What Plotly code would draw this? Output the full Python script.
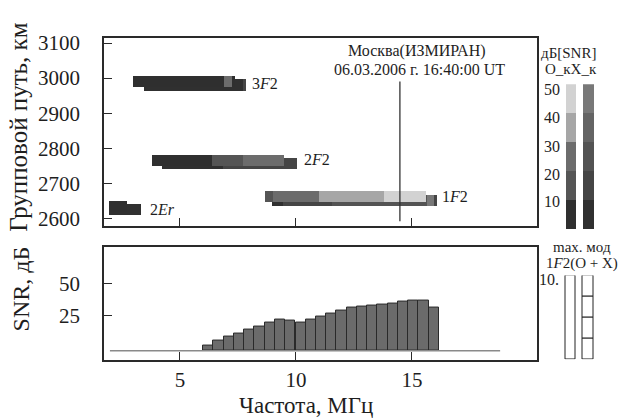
import plotly.graph_objects as go

# ---------------- data ----------------
# SNR level colours (dB bins 0-10,10-20,20-30,30-40,40-50)
snr_levels = [10, 20, 30, 40, 50]
colors_O = ["#2f2f2f", "#555555", "#6c6c6c", "#a6a6a6", "#d2d2d2"]
colors_X = ["#303030", "#454545", "#535353", "#646464", "#787878"]

# echo traces: frequency edges (MHz), level index per segment, group path (km)
trace_names = ["3F2", "2F2", "1F2", "2Er"]
label_text = ["3<i>F</i>2", "2<i>F</i>2", "1<i>F</i>2", "2<i>Er</i>"]
label_freq = [8.02, 10.25, 16.21, 3.62]
label_path = [2986, 2767, 2661, 2625]

edges_O = {
    "3F2": [2.96, 6.90, 7.24, 7.37],
    "2F2": [3.81, 6.37, 7.73, 9.48],
    "1F2": [8.66, 9.02, 11.00, 13.79, 15.60],
    "2Er": [1.94, 2.70],
}
levels_O = {
    "3F2": [0, 2, 0],
    "2F2": [0, 1, 2],
    "1F2": [1, 2, 3, 4],
    "2Er": [0],
}
path_O = {"3F2": 2990, "2F2": 2765, "1F2": 2661, "2Er": 2634}

edges_X = {
    "3F2": [3.45, 7.70, 7.84],
    "2F2": [4.21, 6.87, 8.36, 10.03],
    "1F2": [8.98, 9.45, 11.54, 15.63, 15.95, 16.08],
    "2Er": [1.94, 3.32],
}
levels_X = {
    "3F2": [0, 1],
    "2F2": [0, 1, 1],
    "1F2": [0, 1, 2, 4, 1],
    "2Er": [0],
}
path_X = {"3F2": 2980, "2F2": 2755, "1F2": 2650, "2Er": 2624}

station_freq = 14.48
station_path = [2592, 2990]

# SNR of 1F2 (O+X) vs frequency
snr_freq = [6.22, 6.66, 7.10, 7.55, 7.99, 8.43, 8.87, 9.31, 9.75, 10.20, 10.64,
            11.08, 11.52, 11.96, 12.40, 12.85, 13.29, 13.73, 14.17, 14.61,
            15.05, 15.50, 15.94]
snr_db = [1.5, 5.3, 9.1, 10.9, 13.9, 16.4, 19.4, 22.2, 21.2, 19.4, 22.2,
          24.2, 26.5, 29.0, 31.3, 31.8, 32.8, 33.6, 34.3, 36.1,
          36.9, 36.9, 31.3]
snr_floor = -2.3
baseline_freq = [1.98, 18.8]

mode_cols = ["O", "X"]
maxmode_cells = [1, 4]  # number of cells in each box

# ---------------- figure ----------------
W, H = 620, 420
SERIF = "Liberation Serif"
INK = "#1e1e1e"


def px_x(p):
    return p / W


def px_y(p):
    return 1 - p / H


fig = go.Figure()

BAR_H = 32  # km thickness of echo strips

# X mode drawn first (underneath), O on top
for mode, edges, levels, paths, cols in (("X", edges_X, levels_X, path_X, colors_X),
                                          ("O", edges_O, levels_O, path_O, colors_O)):
    for name in trace_names:
        e = edges[name]
        lv = levels[name]
        fig.add_trace(go.Bar(
            orientation="h",
            base=e[:-1],
            x=[e[i + 1] - e[i] for i in range(len(e) - 1)],
            y=[paths[name]] * (len(e) - 1),
            width=BAR_H,
            marker=dict(color=[cols[k] for k in lv], line=dict(width=0)),
            xaxis="x", yaxis="y", showlegend=False, hoverinfo="skip",
        ))

# station vertical line
fig.add_trace(go.Scatter(x=[station_freq, station_freq], y=station_path, mode="lines",
                         line=dict(color="#333333", width=1.3), xaxis="x", yaxis="y",
                         showlegend=False, hoverinfo="skip"))

# bottom panel: baseline + SNR bars
fig.add_trace(go.Scatter(x=baseline_freq, y=[snr_floor, snr_floor], mode="lines",
                         line=dict(color="#8a8a8a", width=1.5), xaxis="x2", yaxis="y2",
                         showlegend=False, hoverinfo="skip"))
fig.add_trace(go.Bar(x=snr_freq, y=[v - snr_floor for v in snr_db], base=snr_floor,
                     width=0.4417,
                     marker=dict(color="#6b6b6b", line=dict(color="#2a2a2a", width=1)),
                     xaxis="x2", yaxis="y2", showlegend=False, hoverinfo="skip"))

# colour legend (two stacked columns)
for ci, (col_name, cols) in enumerate(zip(mode_cols, [colors_O, colors_X])):
    fig.add_trace(go.Bar(
        x=[ci] * len(snr_levels),
        y=[10] * len(snr_levels),
        base=[lv - 10 for lv in snr_levels],
        width=0.6,
        marker=dict(color=cols, line=dict(width=0)),
        xaxis="x3", yaxis="y3", showlegend=False, hoverinfo="skip",
    ))

# max mode boxes
for ci, n in enumerate(maxmode_cells):
    fig.add_trace(go.Bar(
        x=[ci] * n,
        y=[4 / n] * n,
        base=[k * 4 / n for k in range(n)],
        width=0.6,
        marker=dict(color="white", line=dict(color="#222222", width=1)),
        xaxis="x4", yaxis="y4", showlegend=False, hoverinfo="skip",
    ))

xdom = [px_x(104), px_x(537)]
axis_common = dict(showline=True, linecolor="#2a2a2a", linewidth=1.5, mirror=True,
                   ticks="inside", ticklen=8, tickcolor="#2a2a2a", tickwidth=1.2,
                   showgrid=False, zeroline=False,
                   tickfont=dict(family=SERIF, size=21, color=INK))
xrange = [1.724, 20.39]

legend_xdom = [px_x(561.5), px_x(597)]

fig.update_layout(
    width=W, height=H, margin=dict(l=0, r=0, t=0, b=0),
    paper_bgcolor="white", plot_bgcolor="white",
    barmode="overlay", bargap=0,
    xaxis=dict(domain=xdom, range=xrange, tickvals=[5, 10, 15], showticklabels=False,
               anchor="y", **axis_common),
    yaxis=dict(domain=[px_y(225), px_y(32)], range=[2577.8, 3113.9], ticklabelstandoff=18,
               tickvals=[2600, 2700, 2800, 2900, 3000, 3100], anchor="x", **axis_common),
    xaxis2=dict(domain=xdom, range=xrange, tickvals=[5, 10, 15], anchor="y2",
                ticklabelstandoff=1, **axis_common),
    yaxis2=dict(domain=[px_y(362), px_y(246)], range=[-9.1, 78.8], ticklabelstandoff=18,
                tickvals=[25, 50], anchor="x2", **axis_common),
    xaxis3=dict(domain=legend_xdom, range=[-0.5, 1.5], visible=False, anchor="y3"),
    yaxis3=dict(domain=[px_y(228), px_y(79.3)], range=[0, 50], visible=False, anchor="x3"),
    xaxis4=dict(domain=legend_xdom, range=[-0.5, 1.5], visible=False, anchor="y4"),
    yaxis4=dict(domain=[px_y(361.7), px_y(275.7)], range=[0, 4], visible=False, anchor="x4"),
)

ann = []


def A(text, x, y, size=14, xanchor="center", yanchor="middle", xref="paper", yref="paper",
      angle=0):
    ann.append(dict(text=text, x=x, y=y, xref=xref, yref=yref, showarrow=False,
                    xanchor=xanchor, yanchor=yanchor, textangle=angle,
                    font=dict(family=SERIF, size=size, color=INK)))


for t, fx, gy in zip(label_text, label_freq, label_path):
    A(t, fx, gy, size=16, xanchor="left", xref="x", yref="y")

A("Москва(ИЗМИРАН)", px_x(416.5), px_y(45), size=16)
A("06.03.2006 г. 16:40:00 UT", px_x(419), px_y(64), size=16)

A("Групповой путь, км", px_x(19), px_y(124), size=25, angle=-90)
A("SNR, дБ", px_x(21), px_y(290), size=24, angle=-90)
A("Частота, МГц", px_x(306), px_y(409), size=23)

A("дБ[SNR]", px_x(568), px_y(47), size=15)
A("O_кX_к", px_x(571), px_y(64), size=15)
for lv, yy in zip(snr_levels, [200, 172, 143, 113, 85]):
    A(str(lv), px_x(562), px_y(yy), size=16, xanchor="right")

A("max. мод", px_x(582), px_y(246), size=15)
A("1<i>F</i>2(O + X)", px_x(582), px_y(263), size=15)
A("10.", px_x(549), px_y(280), size=16)

fig.update_layout(annotations=ann)

fig.write_html("out.html")
